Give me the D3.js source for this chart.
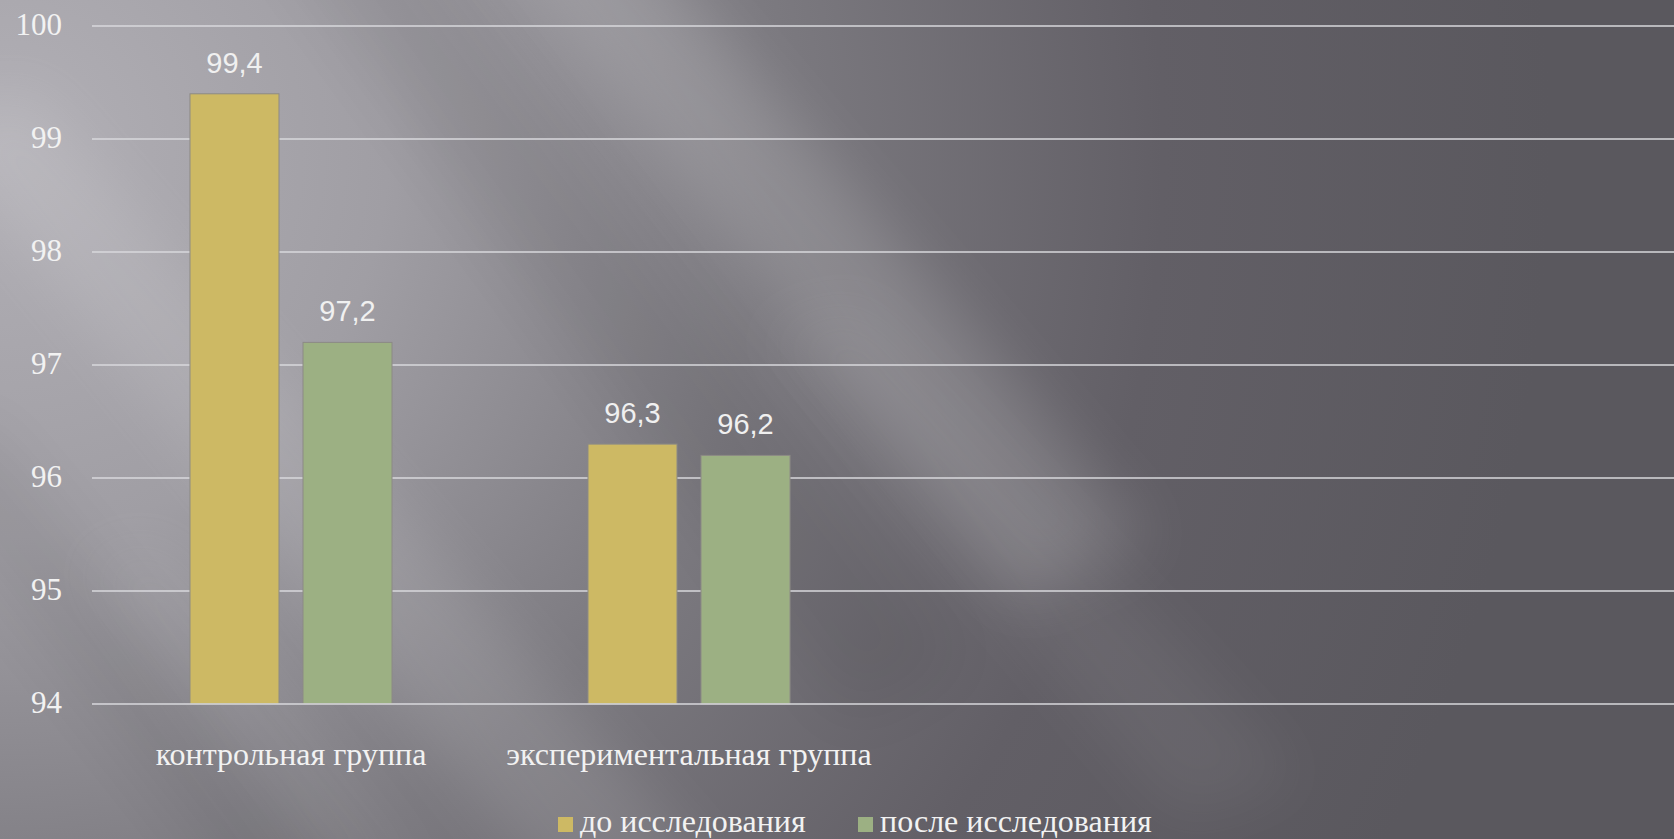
<!DOCTYPE html>
<html>
<head>
<meta charset="utf-8">
<script src="https://cdn.jsdelivr.net/npm/d3@7"></script>
<style>
  html, body { margin: 0; padding: 0; overflow: hidden; background: #6e6c72; }
  svg { display: block; }
</style>
</head>
<body>
<script>
const categories = ["контрольная группа", "экспериментальная группа"];
const seriesNames = ["до исследования", "после исследования"];
const beforeValues = [99.4, 96.3];
const afterValues = [97.2, 96.2];
const yTicks = [94, 95, 96, 97, 98, 99, 100];
const seriesColors = ["#CDB964", "#9CB083"];

(function () {
const W = 1674, H = 839;
const svg = d3.select("body").append("svg").attr("width", W).attr("height", H);
const defs = svg.append("defs");

// background
const rg = defs.append("radialGradient").attr("id", "bg")
  .attr("gradientUnits", "userSpaceOnUse").attr("cx", 0).attr("cy", 150).attr("r", 1550);
[[0, "#b2b0b6"], [0.25, "#a09ea4"], [0.5, "#7c7a80"], [0.75, "#625f66"], [1, "#5a585e"]].forEach(([o, c]) =>
  rg.append("stop").attr("offset", o).attr("stop-color", c));
const blur = defs.append("filter").attr("id", "blur")
  .attr("filterUnits", "userSpaceOnUse")
  .attr("x", -300).attr("y", -300).attr("width", W + 600).attr("height", H + 600);
blur.append("feGaussianBlur").attr("stdDeviation", 30);

svg.append("rect").attr("width", W).attr("height", H).attr("fill", "url(#bg)");
const streaks = svg.append("g");
const bands = [
  { pts: [[470, -80], [620, -80], [1150, 540], [1020, 600]], op: 0.14, c: "#ffffff" },
  { pts: [[-80, 120], [30, 90], [720, 880], [580, 920]], op: 0.10, c: "#ffffff" },
  { pts: [[260, -80], [400, -80], [960, 660], [850, 720]], op: 0.06, c: "#000000" },
  { pts: [[-100, 460], [-20, 420], [400, 920], [280, 940]], op: 0.06, c: "#000000" },
  { pts: [[760, 330], [860, 300], [1300, 780], [1180, 820]], op: 0.05, c: "#ffffff" },
  { pts: [[80, 560], [160, 540], [420, 880], [330, 900]], op: 0.06, c: "#ffffff" }
];
streaks.selectAll("polygon").data(bands).join("polygon")
  .attr("points", d => d.pts.map(p => p.join(",")).join(" "))
  .attr("fill", d => d.c).attr("opacity", d => d.op)
  .attr("filter", "url(#blur)");

// scales
const mLeft = 92, mRight = W, mTop = 26, mBottom = 704;
const y = d3.scaleLinear().domain([94, 100]).range([mBottom, mTop]);
const x0 = d3.scaleBand().domain(categories).range([mLeft, mLeft + 2 * 398]);
const x1 = d3.scaleBand().domain(seriesNames).range([0, x0.bandwidth()])
  .paddingInner(24 / 113).paddingOuter(0.867);

// grid
svg.append("g").selectAll("line").data(yTicks.filter(t => t !== 94)).join("line")
  .attr("x1", mLeft).attr("x2", mRight)
  .attr("y1", d => y(d)).attr("y2", d => y(d))
  .attr("stroke", "#d9d9dd").attr("stroke-width", 1.3);

// y axis labels
const yAxis = d3.axisLeft(y).tickValues(yTicks).tickFormat(d3.format("d")).tickSize(0).tickPadding(0);
const yg = svg.append("g").attr("transform", `translate(62,0)`).call(yAxis);
yg.select(".domain").remove();
yg.selectAll("text")
  .attr("font-family", "'Liberation Serif', 'DejaVu Serif', serif")
  .attr("font-size", 31).attr("fill", "#f2f2f2")
  .attr("dy", null).attr("y", 8);

// bars
const data = categories.map((c, i) => ({ cat: c, vals: [beforeValues[i], afterValues[i]] }));
const groups = svg.append("g").selectAll("g").data(data).join("g")
  .attr("transform", d => `translate(${x0(d.cat)},0)`);
groups.selectAll("rect").data(d => d.vals.map((v, j) => ({ v, s: seriesNames[j], j }))).join("rect")
  .attr("x", d => x1(d.s)).attr("width", x1.bandwidth())
  .attr("y", d => y(d.v)).attr("height", d => y(94) - y(d.v))
  .attr("fill", d => seriesColors[d.j])
  .attr("stroke", "#8c8a86").attr("stroke-width", 1);
groups.selectAll("text").data(d => d.vals.map((v, j) => ({ v, s: seriesNames[j] }))).join("text")
  .attr("x", d => x1(d.s) + x1.bandwidth() / 2)
  .attr("y", d => y(d.v) - 21)
  .attr("text-anchor", "middle")
  .attr("font-family", "'Liberation Sans', Arial, sans-serif")
  .attr("font-size", 29).attr("fill", "#f0f0f0")
  .text(d => String(d.v).replace(".", ","));

// baseline
svg.append("line").attr("x1", mLeft).attr("x2", mRight)
  .attr("y1", y(94)).attr("y2", y(94))
  .attr("stroke", "#d9d9dd").attr("stroke-width", 1.3);

// category labels
const xAxis = d3.axisBottom(x0).tickSize(0).tickPadding(0);
const xg = svg.append("g").attr("transform", `translate(0,${mBottom})`).call(xAxis);
xg.select(".domain").remove();
xg.selectAll("text")
  .attr("font-family", "'Liberation Serif', 'DejaVu Serif', serif")
  .attr("font-size", 32).attr("fill", "#f2f2f2")
  .attr("dy", null).attr("y", 61);

// legend
const legendX = [558, 858];
const lg = svg.append("g").selectAll("g").data(seriesNames).join("g")
  .attr("transform", (d, i) => `translate(${legendX[i]},817)`);
lg.append("rect").attr("width", 15).attr("height", 15).attr("fill", (d, i) => seriesColors[i]);
lg.append("text").attr("x", 22).attr("y", 15)
  .attr("font-family", "'Liberation Serif', 'DejaVu Serif', serif")
  .attr("font-size", 32).attr("fill", "#f2f2f2")
  .text(d => d);
})();
</script>
</body>
</html>
